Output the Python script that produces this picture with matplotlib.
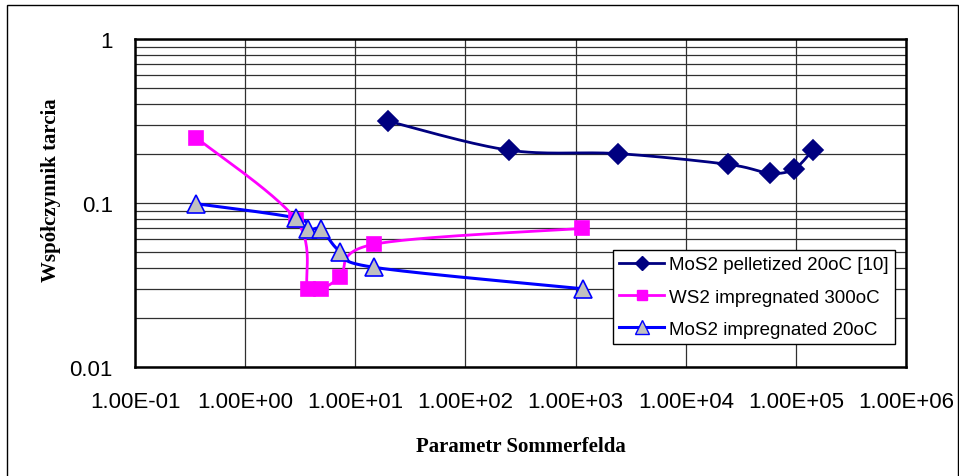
import numpy as np
import matplotlib
matplotlib.use("Agg")
import matplotlib.pyplot as plt
from matplotlib.lines import Line2D
from matplotlib.patches import Rectangle
from matplotlib.ticker import FixedLocator, LogLocator, NullFormatter

# --- data ---
mos2_pel_x = [20, 248, 2450, 24300, 57800, 96000, 142000]
mos2_pel_y = [0.315, 0.21, 0.20, 0.172, 0.152, 0.161, 0.21]

ws2_imp_x = [0.36, 2.9, 3.7, 4.9, 7.3, 14.7, 1140]
ws2_imp_y = [0.25, 0.079, 0.030, 0.030, 0.0355, 0.056, 0.070]

mos2_imp_x = [0.36, 2.9, 3.75, 4.9, 7.3, 14.9, 1160]
mos2_imp_y = [0.099, 0.081, 0.069, 0.069, 0.0505, 0.0405, 0.030]

labels = ["MoS2 pelletized 20oC [10]", "WS2 impregnated 300oC", "MoS2 impregnated 20oC"]
x_ticks = [1e-1, 1e0, 1e1, 1e2, 1e3, 1e4, 1e5, 1e6]
x_tick_labels = ["1.00E-01", "1.00E+00", "1.00E+01", "1.00E+02",
                 "1.00E+03", "1.00E+04", "1.00E+05", "1.00E+06"]
y_ticks = [0.01, 0.1, 1]
y_tick_labels = ["0.01", "0.1", "1"]


def smooth(xs, ys, n=30):
    """Excel-style smoothed line (Bezier through points, 1/6 tangents) in log space."""
    p = np.column_stack([np.log10(xs), np.log10(ys)])
    pts = [p[0]]
    for i in range(len(p) - 1):
        p0 = p[i - 1] if i > 0 else p[i]
        p1, p2 = p[i], p[i + 1]
        p3 = p[i + 2] if i + 2 < len(p) else p[i + 1]
        c1 = p1 + (p2 - p0) / 6
        c2 = p2 - (p3 - p1) / 6
        t = np.linspace(0, 1, n)[1:, None]
        seg = ((1 - t) ** 3) * p1 + 3 * ((1 - t) ** 2) * t * c1 \
            + 3 * (1 - t) * t ** 2 * c2 + t ** 3 * p2
        pts.extend(seg)
    pts = np.array(pts)
    return 10 ** pts[:, 0], 10 ** pts[:, 1]


fig = plt.figure(figsize=(9.59, 4.77), dpi=100)
ax = fig.add_axes([0.1408, 0.2285, 0.804, 0.6876])
ax.set_xscale("log")
ax.set_yscale("log")
ax.set_xlim(1e-1, 1e6)
ax.set_ylim(0.01, 1)

styles = [
    dict(color="#000080", marker="D", ms=10, mfc="#000080", mec="#000080", lw=2.0),
    dict(color="#FF00FF", marker="s", ms=10.5, mfc="#FF00FF", mec="#FF00FF", lw=2.0),
    dict(color="#0000FF", marker="^", ms=12.5, mfc="#C0C0C0", mec="#0000FF", lw=2.2),
]
series = [(mos2_pel_x, mos2_pel_y), (ws2_imp_x, ws2_imp_y), (mos2_imp_x, mos2_imp_y)]

handles = []
for (xs, ys), st, lab in zip(series, styles, labels):
    sx, sy = smooth(xs, ys)
    ax.plot(sx, sy, color=st["color"], lw=st["lw"], zorder=3)
    ax.plot(xs, ys, ls="none", marker=st["marker"], ms=st["ms"], mfc=st["mfc"],
            mec=st["mec"], mew=1.2, zorder=4)
    handles.append(Line2D([], [], color=st["color"], lw=st["lw"], marker=st["marker"],
                          ms=st["ms"] * 0.75, mfc=st["mfc"], mec=st["mec"], mew=1.0))

# grid: vertical at decades, horizontal at every major and minor value
ax.xaxis.set_major_locator(FixedLocator(x_ticks))
ax.xaxis.set_minor_locator(FixedLocator([]))
ax.yaxis.set_major_locator(FixedLocator(y_ticks))
ax.yaxis.set_minor_locator(LogLocator(base=10, subs=np.arange(2, 10)))
ax.yaxis.set_minor_formatter(NullFormatter())
ax.grid(True, which="major", axis="both", color="#303030", lw=0.9)
ax.grid(True, which="minor", axis="y", color="#303030", lw=0.9)
ax.set_axisbelow(True)

ax.set_xticklabels(x_tick_labels, fontsize=16, family="Liberation Sans")
ax.set_yticklabels(y_tick_labels, fontsize=16, family="Liberation Sans")
ax.tick_params(axis="x", which="both", length=0, pad=17)
ax.tick_params(axis="y", which="both", length=0, pad=16)
for sp in ax.spines.values():
    sp.set_linewidth(1.8)
    sp.set_color("black")

fig.text(0.5428, 1 - 447 / 477, "Parametr Sommerfelda", ha="center", va="center",
         fontsize=15, fontweight="bold", family="Liberation Serif")
fig.text(51 / 959, 1 - 190 / 477, "Współczynnik tarcia", ha="center", va="center",
         rotation=90, fontsize=15, fontweight="bold", family="Liberation Serif")

leg = ax.legend(handles, labels, loc="upper left", bbox_to_anchor=(0.6196, 0.3576),
                borderaxespad=0, fancybox=False, framealpha=1, edgecolor="black",
                prop={"family": "Liberation Sans", "size": 13.5},
                handlelength=2.4, handletextpad=0.25, labelspacing=0.8, borderpad=0.35)
leg.get_frame().set_linewidth(1.0)
leg.set_zorder(10)

# outer chart border
fig.patches.append(Rectangle((7 / 959, -0.01), 951 / 959, 1 - 6 / 477 + 0.01,
                             transform=fig.transFigure, fill=False,
                             edgecolor="black", lw=1.0))

fig.savefig("out.png", dpi=100)
